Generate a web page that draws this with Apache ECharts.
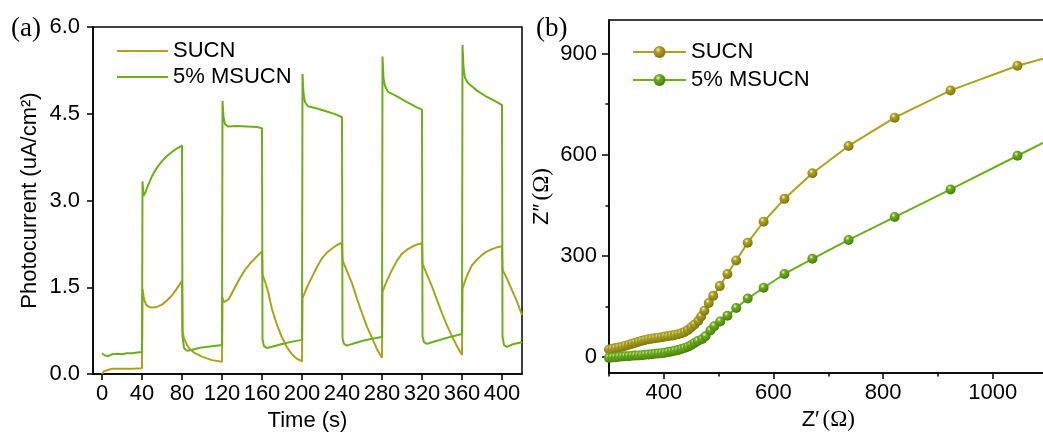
<!DOCTYPE html>
<html><head><meta charset="utf-8">
<script src="https://cdn.jsdelivr.net/npm/echarts@6/dist/echarts.min.js"></script>
<style>html,body{margin:0;padding:0;background:#fff}#c{width:1043px;height:436px}</style>
</head><body><div id="c"></div>
<script>
// ---------- data ----------
const seriesNames = ['SUCN', '5% MSUCN'];
const timeTicks = [0, 40, 80, 120, 160, 200, 240, 280, 320, 360, 400];
const zreTicks = [400, 600, 800, 1000];
const zreMinorTicks = [300, 500, 700, 900, 1100];
const zimTicks = [0, 300, 600, 900];
const zimMinorTicks = [150, 450, 750];

// (a) photocurrent, [time s, current uA/cm2]
const photoSUCN = [
  [0,0.0],[2,0.05],[4,0.08],[10,0.09],[20,0.09],[30,0.09],[40,0.1],
  [40.5,1.47],[42,1.3],[44,1.2],[47,1.16],[50,1.15],[55,1.16],[60,1.2],[65,1.27],[70,1.36],[75,1.48],[80,1.61],
  [80.5,0.74],[82,0.62],[85,0.5],[88,0.43],[92,0.37],[100,0.3],[110,0.24],[120,0.21],
  [120.5,1.32],[122,1.24],[124,1.23],[127,1.3],[133,1.5],[138,1.66],[143,1.8],[148,1.91],[153,2.0],[160,2.12],
  [160.5,1.72],[163,1.6],[166,1.43],[170,1.12],[175,0.85],[180,0.63],[185,0.46],[190,0.34],[195,0.26],[200,0.22],
  [200.5,1.31],[205,1.5],[210,1.68],[215,1.85],[220,2.0],[225,2.1],[230,2.17],[235,2.23],[240,2.27],
  [240.5,1.97],[245,1.78],[250,1.57],[255,1.3],[260,1.05],[265,0.82],[270,0.62],[275,0.43],[280,0.28],
  [280.5,1.42],[285,1.62],[290,1.8],[295,1.96],[300,2.08],[305,2.15],[310,2.2],[315,2.24],[320,2.26],
  [320.5,1.91],[325,1.72],[330,1.51],[335,1.28],[340,1.05],[345,0.84],[350,0.65],[355,0.48],[360,0.33],
  [360.5,1.48],[365,1.7],[370,1.88],[375,1.98],[380,2.06],[385,2.12],[390,2.16],[395,2.19],[400,2.21],
  [400.5,1.81],[405,1.65],[410,1.45],[415,1.25],[420,1.02]
];
const photoMSUCN = [
  [0,0.36],[3,0.32],[6,0.31],[10,0.34],[15,0.35],[20,0.34],[25,0.36],[30,0.36],[35,0.37],[40,0.38],
  [40.5,3.33],[41.5,3.08],[43,3.12],[45,3.22],[50,3.42],[55,3.57],[60,3.68],[65,3.77],[70,3.84],[75,3.9],[80,3.95],
  [80.5,0.65],[82,0.45],[85,0.4],[90,0.42],[95,0.44],[100,0.46],[110,0.48],[120,0.5],
  [120.5,4.72],[121.5,4.45],[123,4.32],[126,4.28],[135,4.29],[145,4.28],[155,4.27],[160,4.25],
  [160.5,0.6],[162,0.48],[165,0.45],[170,0.47],[180,0.52],[190,0.56],[200,0.59],
  [200.5,5.19],[201.5,4.85],[203,4.7],[206,4.63],[215,4.59],[225,4.54],[235,4.48],[240,4.44],
  [240.5,0.62],[242,0.52],[245,0.49],[250,0.52],[260,0.57],[270,0.61],[280,0.64],
  [280.5,5.49],[281.5,5.12],[283,4.98],[286,4.88],[295,4.8],[305,4.7],[315,4.61],[320,4.57],
  [320.5,0.65],[322,0.55],[325,0.52],[330,0.55],[340,0.6],[350,0.65],[360,0.69],
  [360.5,5.69],[361.5,5.3],[363,5.12],[366,5.03],[375,4.9],[385,4.79],[395,4.7],[400,4.65],
  [400.5,0.65],[402,0.5],[405,0.47],[410,0.51],[415,0.53],[420,0.55]
];

// (b) Nyquist, [Z' ohm, Z'' ohm]
const nyquistSUCN = [
  [300,22],[306,24],[312,26],[318,28],[324,30],[330,33],[336,36],[342,39],[348,42],[354,45],[360,48],
  [366,50],[372,52],[378,54],[384,55],[390,57],[396,58],[402,60],[408,61],[414,63],[420,65],[426,67],
  [432,70],[438,74],[444,80],[450,88],[456,96],[463,107],[468,120],[474,137],[482,160],[490,181],
  [502,210],[516,246],[532,286],[553,339],[582,401],[620,469],[671,545],[737,626],[821,710],[923,791],
  [1045,864],[1175,922]
];
const nyquistMSUCN = [
  [300,-3],[306,-2],[312,-1],[318,0],[324,1],[330,2],[336,2],[342,3],[348,4],[354,4],[360,5],
  [366,6],[372,7],[378,8],[384,9],[390,10],[396,11],[402,12],[408,14],[414,16],[420,18],[426,20],
  [432,23],[438,26],[444,30],[450,35],[456,41],[462,47],[470,53],[476,61],[485,78],[492,91],
  [503,105],[516,122],[532,145],[553,173],[582,205],[620,246],[671,291],[737,347],[821,415],[923,497],
  [1045,597],[1175,703]
];

// ---------- style ----------
const C1 = '#aba320';
const C2 = '#6cae1c';
const FONT = '"Liberation Sans", Arial, sans-serif';
const SERIF = '"Liberation Serif", "Times New Roman", serif';
function ball(c, dark) {
  return {type:'radial', x:0.38, y:0.32, r:0.7, colorStops:[
    {offset:0, color:'#f6f3d8'}, {offset:0.3, color:c}, {offset:1, color:dark}]};
}
const axisLine = {show:true, onZero:false, lineStyle:{color:'#000', width:1.5}};
const lbl = {color:'#000', fontSize:22, fontFamily:FONT};

const chart = echarts.init(document.getElementById('c'));
chart.setOption({
  animation:false,
  backgroundColor:'#fff',
  textStyle:{fontFamily:FONT},
  title:[
    {text:'(a)', left:6, top:10, textStyle:{fontFamily:SERIF, fontSize:27, fontWeight:'normal', color:'#000'}},
    {text:'(b)', left:531, top:10, textStyle:{fontFamily:SERIF, fontSize:27, fontWeight:'normal', color:'#000'}}
  ],
  grid:[
    {left:93, top:27, width:429, height:347, show:true, borderColor:'#000', borderWidth:1.5, containLabel:false, outerBoundsMode:'none'},
    {left:609, top:20, width:438.6, height:353, show:true, borderColor:'#000', borderWidth:1.5, containLabel:false, outerBoundsMode:'none'}
  ],
  legend:[
    {left:112, top:35, orient:'vertical', itemWidth:51, itemHeight:2, itemGap:4, icon:'rect',
     data:seriesNames, textStyle:{fontSize:22, color:'#000', fontFamily:FONT}},
    {left:627, top:36, orient:'vertical', itemWidth:53, itemHeight:15, itemGap:6,
     data:seriesNames.map(n => n + ' (b)'), formatter: n => n.replace(' (b)', ''),
     textStyle:{fontSize:22, color:'#000', fontFamily:FONT}}
  ],
  xAxis:[
    {gridIndex:0, type:'value', min:-9, max:420, axisLine:axisLine,
     axisTick:{show:true, customValues:timeTicks, length:6, lineStyle:{color:'#000', width:1.5}},
     axisLabel:Object.assign({customValues:timeTicks, margin:9, formatter:v => String(v)}, lbl),
     splitLine:{show:false}, name:'Time (s)', nameLocation:'middle', nameGap:36,
     nameTextStyle:{fontSize:22, color:'#000', fontFamily:FONT}},
    {gridIndex:1, type:'value', min:300, max:1100, axisLine:axisLine,
     axisTick:{show:true, customValues:zreTicks, length:6, lineStyle:{color:'#000', width:1.5}},
     axisLabel:Object.assign({customValues:zreTicks, margin:9, formatter:v => String(v)}, lbl),
     splitLine:{show:false}, name:'{a|Z′} {b|(Ω)}', nameLocation:'middle', nameGap:31,
     nameTextStyle:{rich:{a:{fontSize:22, fontFamily:FONT, color:'#000'}, b:{fontSize:23, fontFamily:SERIF, color:'#000'}}}},
    {gridIndex:1, type:'value', min:300, max:1100, position:'bottom', axisLine:{show:false, onZero:false},
     axisTick:{show:true, customValues:zreMinorTicks, length:3.5, lineStyle:{color:'#000', width:1.5}},
     axisLabel:{show:false}, splitLine:{show:false}}
  ],
  yAxis:[
    {gridIndex:0, type:'value', min:0, max:6, interval:1.5, axisLine:axisLine,
     axisTick:{show:true, length:6, lineStyle:{color:'#000', width:1.5}},
     axisLabel:Object.assign({margin:13, formatter:v => v.toFixed(1)}, lbl),
     splitLine:{show:false}, name:'Photocurrent (uA/cm²)', nameLocation:'middle', nameRotate:90, nameGap:52,
     nameTextStyle:{fontSize:22, color:'#000', fontFamily:FONT}},
    {gridIndex:1, type:'value', min:-48, max:1000, axisLine:axisLine,
     axisTick:{show:true, customValues:zimTicks, length:7, lineStyle:{color:'#000', width:1.5}},
     axisLabel:Object.assign({customValues:zimTicks, margin:12, formatter:v => String(v)}, lbl),
     splitLine:{show:false}, name:'{a|Z″} {b|(Ω)}', nameLocation:'middle', nameRotate:90, nameGap:56,
     nameTextStyle:{rich:{a:{fontSize:22, fontFamily:FONT, color:'#000'}, b:{fontSize:23, fontFamily:SERIF, color:'#000'}}}},
    {gridIndex:1, type:'value', min:-48, max:1000, position:'left', axisLine:{show:false, onZero:false},
     axisTick:{show:true, customValues:zimMinorTicks, length:3.5, lineStyle:{color:'#000', width:1.5}},
     axisLabel:{show:false}, splitLine:{show:false}}
  ],
  series:[
    {name:seriesNames[0], type:'line', xAxisIndex:0, yAxisIndex:0, data:photoSUCN, showSymbol:false, symbol:'none',
     lineStyle:{color:C1, width:2}, itemStyle:{color:C1}},
    {name:seriesNames[1], type:'line', xAxisIndex:0, yAxisIndex:0, data:photoMSUCN, showSymbol:false, symbol:'none',
     lineStyle:{color:C2, width:2}, itemStyle:{color:C2}},
    {name:seriesNames[0] + ' (b)', type:'line', xAxisIndex:1, yAxisIndex:1, data:nyquistSUCN, symbol:'circle', symbolSize:10,
     lineStyle:{color:C1, width:2}, itemStyle:{color:ball(C1, '#7a7410')}},
    {name:seriesNames[1] + ' (b)', type:'line', xAxisIndex:1, yAxisIndex:1, data:nyquistMSUCN, symbol:'circle', symbolSize:10,
     lineStyle:{color:C2, width:2}, itemStyle:{color:ball(C2, '#487a0e')}}
  ]
});
</script></body></html>
